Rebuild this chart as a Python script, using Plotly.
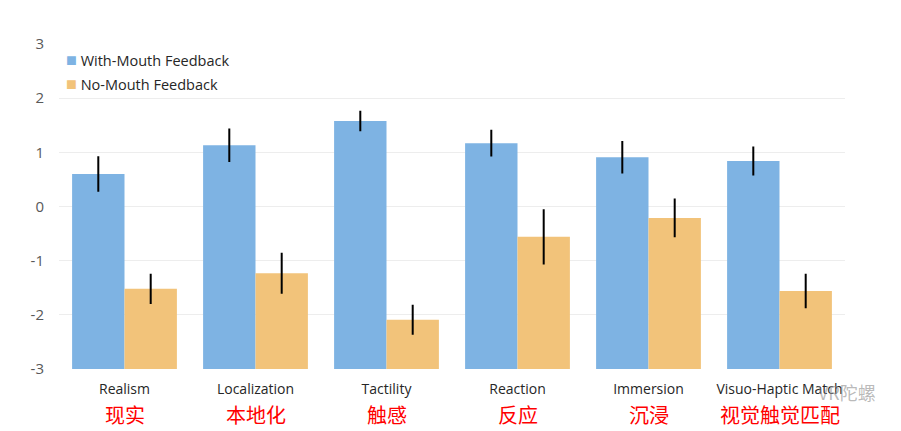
import plotly.graph_objects as go

categories = ["Realism", "Localization", "Tactility", "Reaction", "Immersion", "Visuo-Haptic Match"]
categories_cn = ["现实", "本地化", "触感", "反应", "沉浸", "视觉触觉匹配"]
series_names = ["With-Mouth Feedback", "No-Mouth Feedback"]
with_mouth = [0.60, 1.13, 1.58, 1.17, 0.91, 0.84]
with_mouth_err = [0.31, 0.29, 0.17, 0.23, 0.28, 0.25]
no_mouth = [-1.52, -1.23, -2.09, -0.56, -0.21, -1.56]
no_mouth_err = [0.26, 0.36, 0.26, 0.49, 0.34, 0.30]
y_ticks = [3, 2, 1, 0, -1, -2, -3]
axis_min = -3
colors = ["#7EB3E3", "#F2C37A"]

fig = go.Figure()
for name, vals, errs, col in zip(series_names, [with_mouth, no_mouth],
                                 [with_mouth_err, no_mouth_err], colors):
    fig.add_trace(go.Bar(
        name=name, x=categories,
        y=[v - axis_min for v in vals], base=axis_min,
        marker=dict(color=col, line=dict(width=0)),
        error_y=dict(type="data", array=errs, color="black", thickness=2, width=1),
        showlegend=False,
    ))

# legend drawn as text entries
for i, (name, col) in enumerate(zip(series_names, colors)):
    fig.add_annotation(x=0.007, xref="paper", y=0.955 - i * 0.074, yref="paper",
                       xanchor="left", yanchor="middle", showarrow=False, borderpad=0,
                       text=f"<span style='color:{col};font-size:18px'>■</span> {name}",
                       font=dict(family="Open Sans", size=14.5, color="#262626"))

for c, cn in zip(categories, categories_cn):
    fig.add_annotation(x=c, xref="x", y=-0.088, yref="paper", yanchor="top",
                       text=cn, showarrow=False,
                       font=dict(family="Noto Sans CJK SC", size=20, color="#FF0000"))

fig.add_annotation(x=1.042, xref="paper", y=-0.025, yref="paper", yanchor="top",
                   xanchor="right", text="VR陀螺", showarrow=False,
                   font=dict(family="Noto Sans CJK SC", size=18, color="rgba(140,140,140,0.6)"))

fig.update_layout(
    width=901, height=431,
    margin=dict(l=51, r=64, t=36, b=70, autoexpand=False),
    paper_bgcolor="white", plot_bgcolor="white",
    barmode="group", bargap=0.2, bargroupgap=0,
    font=dict(family="Open Sans", size=14, color="#404040"),
    showlegend=False,
)
fig.update_yaxes(range=[-3, 3], tickvals=y_ticks, ticktext=[str(t) for t in y_ticks],
                 showgrid=True, gridcolor="#EDEDED", gridwidth=1, zeroline=False,
                 tickfont=dict(size=15, color="#595959"), ticks="", ticklabelstandoff=14,
                 automargin=False)
fig.update_xaxes(showgrid=False, showline=False, ticks="", automargin=False,
                 tickfont=dict(size=14, color="#262626"), ticklabelstandoff=10)

fig.write_html("out.html")
